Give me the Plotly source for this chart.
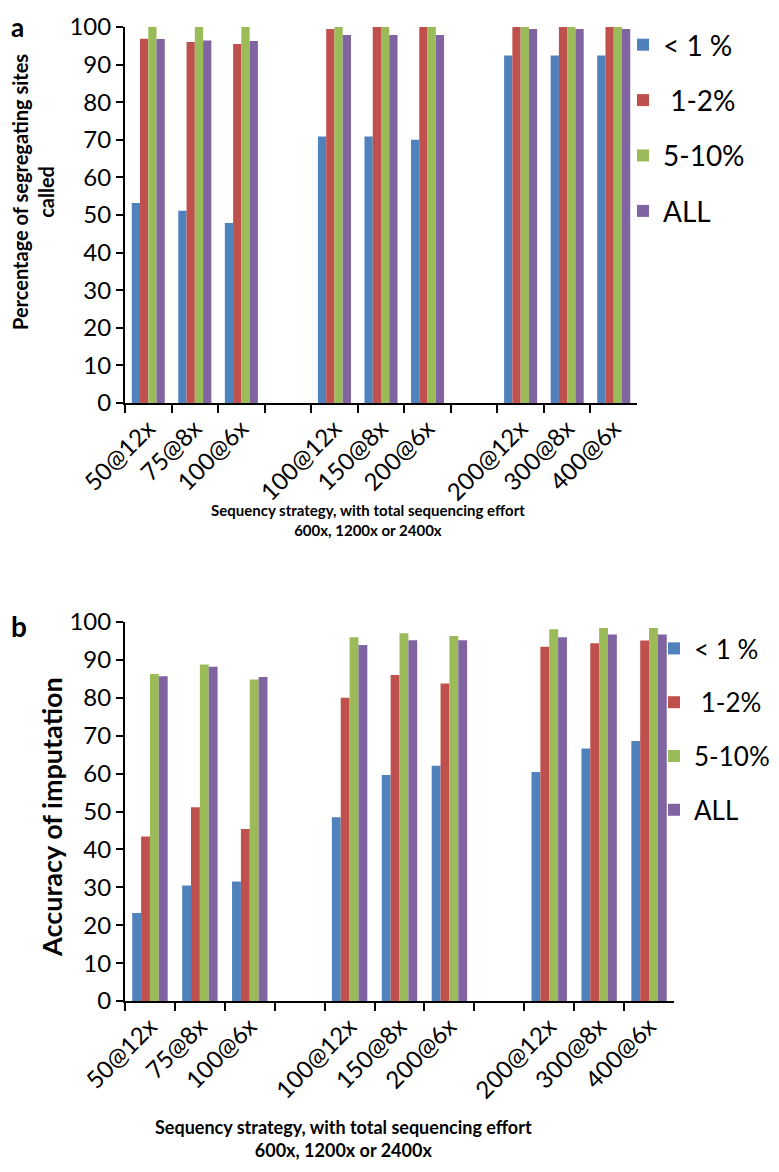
import plotly.graph_objects as go

W, H = 779, 1172

categories = ["50@12x", "75@8x", "100@6x", " ", "100@12x", "150@8x", "200@6x",
              "  ", "200@12x", "300@8x", "400@6x"]
series_names = ["< 1 %", "\u00a01-2%", "5-10%", "ALL"]
series_colors = ["#4F81BD", "#C0504D", "#9BBB59", "#8064A2"]

# Panel a: Percentage of segregating sites called
a_lt1 = [53.2, 51.1, 47.9, None, 70.9, 70.9, 70.0, None, 92.4, 92.4, 92.4]
a_1to2 = [96.9, 96.0, 95.5, None, 99.5, 100, 100, None, 100, 100, 100]
a_5to10 = [100, 100, 100, None, 100, 100, 100, None, 100, 100, 100]
a_all = [96.8, 96.4, 96.3, None, 97.9, 97.9, 97.9, None, 99.5, 99.5, 99.5]

# Panel b: Accuracy of imputation
b_lt1 = [23.2, 30.5, 31.5, None, 48.5, 59.6, 62.1, None, 60.4, 66.6, 68.6]
b_1to2 = [43.4, 51.1, 45.4, None, 80.0, 86.0, 83.8, None, 93.5, 94.4, 95.1]
b_5to10 = [86.3, 88.8, 84.8, None, 96.0, 97.0, 96.3, None, 98.1, 98.4, 98.4]
b_all = [85.7, 88.2, 85.5, None, 93.9, 95.2, 95.2, None, 96.0, 96.7, 96.7]

y_ticks = list(range(0, 101, 10))

FONT = "Lato"

def px_x(v):
    return v / W

def px_y(v):
    return 1 - v / H

fig = go.Figure()

for i, (name, col, vals) in enumerate(zip(series_names, series_colors,
                                          [a_lt1, a_1to2, a_5to10, a_all])):
    fig.add_trace(go.Bar(x=categories, y=vals, name=name, marker=dict(color=col, line=dict(width=0)),
                         xaxis="x", yaxis="y", legend="legend", legendgroup="a%d" % i))

for i, (name, col, vals) in enumerate(zip(series_names, series_colors,
                                          [b_lt1, b_1to2, b_5to10, b_all])):
    fig.add_trace(go.Bar(x=categories, y=vals, name=name, marker=dict(color=col, line=dict(width=0)),
                         xaxis="x2", yaxis="y2", legend="legend2", legendgroup="b%d" % i))

xcommon = dict(type="category", tickson="boundaries", ticks="outside", ticklen=8, tickwidth=2,
               tickcolor="black", showline=True, linewidth=2, linecolor="black", showgrid=False,
               tickangle=-45, tickfont=dict(family=FONT, size=24, color="black"),
               categoryorder="array", categoryarray=categories, fixedrange=True,
               automargin=False)
ycommon = dict(range=[0, 100], tickvals=y_ticks, ticks="outside", ticklen=7, tickwidth=2,
               tickcolor="black", showline=True, linewidth=2, linecolor="black", showgrid=False,
               zeroline=False, tickfont=dict(family=FONT, size=24, color="black"),
               automargin=False)

fig.update_layout(
    width=W, height=H,
    margin=dict(l=0, r=0, t=0, b=0, autoexpand=False),
    paper_bgcolor="white", plot_bgcolor="white",
    barmode="group", bargap=0.29, bargroupgap=0,
    font=dict(family=FONT, color="black"),
    xaxis=dict(domain=[px_x(117), px_x(629)], anchor="y", **xcommon),
    yaxis=dict(domain=[px_y(395), px_y(19)], anchor="x", **ycommon),
    xaxis2=dict(domain=[px_x(117), px_x(666)], anchor="y2", **xcommon),
    yaxis2=dict(domain=[px_y(993), px_y(614)], anchor="x2", **ycommon),
    legend=dict(x=px_x(615), y=px_y(12), xanchor="left", yanchor="top",
                font=dict(family=FONT, size=28, color="black"), tracegroupgap=16,
                bgcolor="rgba(0,0,0,0)"),
    legend2=dict(x=px_x(646), y=px_y(617), xanchor="left", yanchor="top",
                 font=dict(family=FONT, size=26, color="black"), tracegroupgap=17,
                 bgcolor="rgba(0,0,0,0)"),
    showlegend=True,
)

annotations = [
    dict(text="<b>a</b>", x=px_x(1), y=px_y(1), xanchor="left", yanchor="top",
         font=dict(size=26)),
    dict(text="<b>b</b>", x=px_x(1), y=px_y(618), xanchor="left", yanchor="middle",
         font=dict(size=28)),
    dict(text="<b>Percentage of segregating sites<br>called</b>", x=px_x(25), y=px_y(184),
         xanchor="center", yanchor="middle", textangle=-90, font=dict(size=20)),
    dict(text="<b>Accuracy of imputation</b>", x=px_x(43), y=px_y(809),
         xanchor="center", yanchor="middle", textangle=-90, font=dict(size=27)),
    dict(text="<b>Sequency strategy, with total sequencing effort<br>600x, 1200x or 2400x</b>",
         x=px_x(360), y=px_y(512), xanchor="center", yanchor="middle", font=dict(size=15)),
    dict(text="<b>Sequency strategy, with total sequencing effort<br>600x, 1200x or 2400x</b>",
         x=px_x(335), y=px_y(1130), xanchor="center", yanchor="middle", font=dict(size=18)),
]
for a in annotations:
    a.update(xref="paper", yref="paper", showarrow=False)
    a["font"].update(family=FONT, color="black")
fig.update_layout(annotations=annotations)

fig.write_html("out.html")
